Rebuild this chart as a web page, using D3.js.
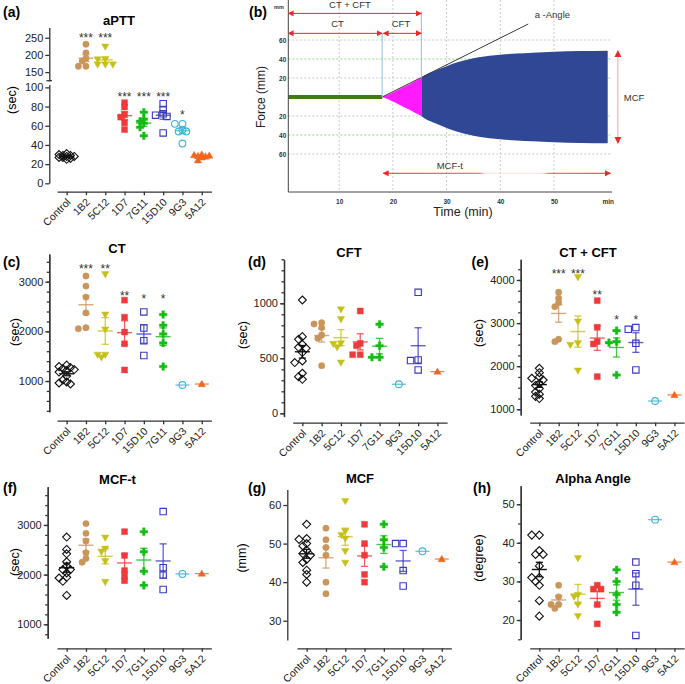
<!DOCTYPE html>
<html><head><meta charset="utf-8">
<script src="https://cdn.jsdelivr.net/npm/d3@7"></script>
<style>
body{margin:0;background:#fff}
svg{display:block}
text{font-family:"Liberation Sans",Arial,Helvetica,sans-serif}
</style>
</head><body>
<svg id="c" width="685" height="684"></svg>
<script>
// ---------------- DATA ----------------
const orderA = ["Control","1B2","5C12","1D7","7G11","15D10","9G3","5A12"];
const apttValues = [
  [31,30,29,29,28,28,27,27,26,25],
  [231,206,190,182,167,167],
  [224,187,187,172,172,172],
  [84,79.5,71.5,69,63,56],
  [74,67,64.7,62.6,58.4,49.6],
  [83,77,72.5,71,69.7,52.5],
  [62,62,56,54,54,41.5],
  [30,29.5,29,28.5,28,27,24]
];
const apttStars = ["","***","***","***","***","***","*",""];
const apttStarLevels = [0,258,258,93,93,93,74,0];
const apttTicksUpper = [150,200,250];
const apttTicksLower = [0,20,40,60,80,100];

const orderC = ["Control","1B2","5C12","1D7","15D10","7G11","9G3","5A12"];
const ctValues = [
  [1320,1290,1270,1250,1230,1210,1180,1100,1020,980,960,940],
  [3115,2912,2690,2372,2054,2074],
  [3149,2338,2034,1527,1473,1527],
  [2628,2284,1986,1750,1223],
  [2392,2068,1811,1514],
  [2338,2122,1946,1764,1291],
  [919],
  [939]
];
const ctStars = ["","***","**","**","*","*","",""];
const ctStarLevels = [0,3322,3322,2766,2718,2718,0,0];
const ctTicks = [1000,2000,3000];

const orderD = ["Control","1B2","5C12","1D7","7G11","9G3","15D10","5A12"];
const cftValues = [
  [1030,697,673,591,627,552,600,476,461,364,333,309],
  [824,812,779,712,682,433],
  [945,855,636,630,600,461],
  [930,636,615,533,533],
  [809,615,509,509],
  [264],
  [1100,485,479,394],
  [379]
];
const cftTicks = [0,500,1000];

const orderE = ["Control","1B2","5C12","1D7","7G11","15D10","9G3","5A12"];
const ctcftValues = [
  [1950,1850,1750,1720,1680,1600,1550,1480,1400,1350,1300,1250],
  [3715,3575,3475,3382,2624,2570],
  [4063,3034,2531,2493,1897],
  [3521,2903,2570,2516,1758],
  [2825,2570,2547,1797],
  [2895,2856,2531,1913],
  [1193],
  [1333]
];
const ctcftStars = ["","***","***","**","*","*","",""];
const ctcftStarLevels = [0,4216,4216,3715,3135,3135,0,0];
const ctcftTicks = [1000,2000,3000,4000];

const orderF = ["Control","1B2","5C12","1D7","7G11","15D10","9G3","5A12"];
const mcftValues = [
  [2757,2419,2507,2257,2169,2101,2101,2034,1932,1946,1865,1581],
  [3027,2831,2676,2439,2250,2324],
  [2743,2520,2459,2270,1851],
  [2865,2385,2081,1966,1878],
  [2865,2459,2068,1784],
  [3270,2140,1990,1700],
  [2014],
  [2020]
];
const mcftTicks = [1000,2000,3000];

const mcfValues = [
  [55,51.3,51.1,49.4,50,48.3,47.4,45.9,45.1,47,43.1,42,40],
  [54,51,49,47,40,37],
  [61,53.2,52.2,51.3,48,45],
  [55,50,47,42,40],
  [55,51,49,44],
  [50,50,43,39],
  [48],
  [46]
];
const mcfTicks = [30,40,50,60];

const alphaValues = [
  [42,42,38,37,37,34,31,31,30,29,25,21],
  [29,26,24,24,23],
  [36,26.5,26,24,21],
  [29,28,28,24,19],
  [33,30,26.6,24,22],
  [35,32,29,16],
  [46],
  [35]
];
const alphaTicks = [20,30,40,50];

// panel (b) ROTEM trace
const traceTime = [18,19,20,21,22,23,24,25.3,26,27,28,30,32,34,36,38,40,43,46,50,55,60];
const traceAmp  = [0,2.2,4.8,7.6,10.4,13.2,16.2,20,22.8,25.5,28,32.5,36.5,39.5,41.8,43.3,44.5,45.8,46.7,47.6,48.3,48.7];
const ctTime = 18, cftEndTime = 25.3;
const alphaLine = [[18,0],[45.2,76.8]];
const bTimeTicks = [10,20,30,40,50,60];
const bForceTicks = [60,40,20,-20,-40,-60];

// ---------------- STYLE ----------------
const catColor = {"Control":"#111111","1B2":"#c9955b","5C12":"#c6c11a","1D7":"#ee3a3a",
  "7G11":"#16bb16","15D10":"#3838c4","9G3":"#3fb4d2","5A12":"#f2661c"};
const openCat = {"Control":true,"15D10":true,"9G3":true};
function shapePath(name){
  switch(name){
    case "Control": return "M0,-4L4,0L0,4L-4,0Z";
    case "1B2": return d3.symbol(d3.symbolCircle,32)();
    case "5C12": return "M-3.7,-2.7L3.7,-2.7L0,3.7Z";
    case "1D7": return "M-3,-3H3V3H-3Z";
    case "7G11": return d3.symbol(d3.symbolCross,32)();
    case "15D10": return "M-3.2,-3.2H3.2V3.2H-3.2Z";
    case "9G3": return d3.symbol(d3.symbolCircle,36)();
    case "5A12": return "M-3.7,2.7L3.7,2.7L0,-3.7Z";
  }
}
const AX = "#333";
const svg = d3.select("#c");
const fmt = d3.format("d");

function swarm(ys){
  const idx = ys.map((d,i)=>i).sort((a,b)=>ys[a]-ys[b]);
  const placed=[], offs=new Array(ys.length).fill(0);
  const step=3.8, dist=4.2;
  idx.forEach(i=>{
    let best=0, bestD=-1;
    for(const k of [0,-1,1,-2,2]){
      const dx=k*step;
      const md = placed.length? d3.min(placed,p=>Math.hypot(p.dx-dx,p.y-ys[i])) : 99;
      if(md>=dist){best=dx;bestD=md;break;}
      if(md>bestD){bestD=md;best=dx;}
    }
    offs[i]=best; placed.push({dx:best,y:ys[i]});
  });
  return offs;
}

function styleAxis(sel){
  sel.selectAll("path,line").attr("stroke",AX).attr("stroke-width",1.3);
  sel.selectAll("text").attr("fill","#222").style("font-size","11px");
}

function panelText(p){
  svg.append("text").attr("x",p.labelX).attr("y",p.labelY).attr("dy","0.35em")
    .style("font-size","14px").style("font-weight","bold").text(p.label);
  svg.append("text").attr("x",p.titleX).attr("y",p.titleY).attr("dy","0.35em")
    .attr("text-anchor","middle").style("font-size","13px").style("font-weight","bold").text(p.title);
  svg.append("text").attr("transform",`translate(${p.ylabX},${p.ylabY}) rotate(-90)`)
    .attr("dy","0.35em").attr("text-anchor","middle").style("font-size","12.5px").text(p.ylab);
}

function scatterPanel(p){
  const g = svg.append("g");
  const x = d3.scalePoint().domain(p.order).range([p.xStart,p.xStart+154.4]).padding(0.5);
  const yv = p.yFn;
  const xa = g.append("g").attr("transform",`translate(0,${p.xAxisY})`)
    .call(d3.axisBottom(x).tickSize(3.5).tickSizeOuter(0));
  styleAxis(xa);
  xa.selectAll("text").attr("x",0).attr("y",0).attr("dy","0.35em").attr("text-anchor","end")
    .attr("transform","translate(1.5,8.5) rotate(-45)").style("font-size","10.5px");
  if(p.drawY) p.drawY(g);
  p.order.forEach((name,i)=>{
    const vals=p.values[i], col=catColor[name], cx=x(name);
    const ys=vals.map(yv);
    const offs=swarm(ys);
    vals.forEach((v,j)=>{
      const open=openCat[name];
      g.append("path").attr("d",shapePath(name))
        .attr("transform",`translate(${cx+offs[j]},${ys[j]})`)
        .attr("fill",open?"none":col)
        .attr("stroke",col).attr("stroke-width",open?1.1:0.4);
    });
    const m=d3.mean(vals);
    const lc = name==="Control"?"#111":col;
    const op = name==="Control"?1:0.8;
    if(vals.length>1){
      const s=d3.deviation(vals)/Math.sqrt(vals.length);
      const y1=yv(m+s), y0=yv(m-s);
      g.append("line").attr("x1",cx).attr("x2",cx).attr("y1",y1).attr("y2",y0).attr("stroke",lc).attr("stroke-opacity",op).attr("stroke-width",1.3);
      [y1,y0].forEach(yy=>g.append("line").attr("x1",cx-3.6).attr("x2",cx+3.6).attr("y1",yy).attr("y2",yy).attr("stroke",lc).attr("stroke-opacity",op).attr("stroke-width",1.3));
      g.append("line").attr("x1",cx-7.5).attr("x2",cx+7.5).attr("y1",yv(m)).attr("y2",yv(m)).attr("stroke",lc).attr("stroke-opacity",op).attr("stroke-width",1.4);
    } else {
      g.append("line").attr("x1",cx-7).attr("x2",cx+7).attr("y1",yv(m)).attr("y2",yv(m)).attr("stroke",lc).attr("stroke-opacity",op).attr("stroke-width",1.3);
    }
    if(p.stars && p.stars[i]){
      g.append("text").attr("x",cx).attr("y",yv(p.starLevels[i])+7).attr("text-anchor","middle")
        .attr("fill","#333").style("font-size","12px").text(p.stars[i]);
    }
  });
  panelText(p);
}

function simpleY(axisX, y, ticks, minor){
  return g=>{
    if(minor){
      const ma=g.append("g").attr("transform",`translate(${axisX},0)`)
        .call(d3.axisLeft(y).tickValues(minor).tickSize(2.5).tickSizeOuter(0).tickFormat(""));
      styleAxis(ma);
    }
    const a=g.append("g").attr("transform",`translate(${axisX},0)`)
      .call(d3.axisLeft(y).tickValues(ticks).tickSize(4).tickPadding(2).tickSizeOuter(0).tickFormat(fmt));
    styleAxis(a);
  };
}
function rangeStep(a,b,s){const r=[];for(let v=a;v<=b+1e-9;v+=s)r.push(v);return r;}

// ---------- Panel (a) ----------
const aUpper = d3.scaleLinear().domain([125,280]).range([80.7,27.4]);
const aLower = d3.scaleLinear().domain([0,103]).range([183.3,84.5]);
scatterPanel({
  order:orderA, values:apttValues, xStart:57, xAxisY:191.7,
  yFn:v=> v>110 ? aUpper(v) : aLower(v),
  drawY:g=>{
    const u=g.append("g").attr("transform","translate(49.3,0)")
      .call(d3.axisLeft(aUpper).tickValues(apttTicksUpper).tickSize(4).tickPadding(2).tickSizeOuter(0).tickFormat(fmt));
    styleAxis(u);
    g.append("line").attr("x1",46.5).attr("x2",52).attr("y1",aUpper(125)).attr("y2",aUpper(125)).attr("stroke",AX).attr("stroke-width",1.3);
    const l=g.append("g").attr("transform","translate(49.3,0)")
      .call(d3.axisLeft(aLower).tickValues(apttTicksLower).tickSize(4).tickPadding(2).tickSizeOuter(0).tickFormat(fmt));
    styleAxis(l);
  },
  stars:apttStars, starLevels:apttStarLevels,
  label:"(a)", labelX:3, labelY:12, title:"aPTT", titleX:119, titleY:20,
  ylab:"(sec)", ylabX:12, ylabY:100
});

// ---------- Panel (c) ----------
const cY = d3.scaleLinear().domain([380,3560]).range([411.8,253.9]);
scatterPanel({
  order:orderC, values:ctValues, xStart:57, xAxisY:420.7, yFn:cY,
  drawY:simpleY(49.3,cY,ctTicks,rangeStep(400,3400,200)),
  stars:ctStars, starLevels:ctStarLevels,
  label:"(c)", labelX:3, labelY:262, title:"CT", titleX:117, titleY:248.5,
  ylab:"(sec)", ylabX:15, ylabY:332
});

// ---------- Panel (d) ----------
const dY = d3.scaleLinear().domain([-30,1400]).range([416.6,259.3]);
scatterPanel({
  order:orderD, values:cftValues, xStart:292.7, xAxisY:422.7, yFn:dY,
  drawY:simpleY(284,dY,cftTicks,rangeStep(0,1400,100)),
  label:"(d)", labelX:248, labelY:262, title:"CFT", titleX:349, titleY:252,
  ylab:"(sec)", ylabX:243, ylabY:335
});

// ---------- Panel (e) ----------
const eY = d3.scaleLinear().domain([870,4480]).range([414.9,259.3]);
scatterPanel({
  order:orderE, values:ctcftValues, xStart:529.7, xAxisY:422.7, yFn:eY,
  drawY:simpleY(520.7,eY,ctcftTicks,rangeStep(1000,4250,250)),
  stars:ctcftStars, starLevels:ctcftStarLevels,
  label:"(e)", labelX:471.5, labelY:262, title:"CT + CFT", titleX:588, titleY:252,
  ylab:"(sec)", ylabX:479, ylabY:333
});

// ---------- Panel (f) ----------
const fY = d3.scaleLinear().domain([720,3770]).range([638.2,486.7]);
scatterPanel({
  order:orderF, values:mcftValues, xStart:57, xAxisY:648.3, yFn:fY,
  drawY:simpleY(47.7,fY,mcftTicks,rangeStep(800,3600,200)),
  label:"(f)", labelX:3, labelY:488.5, title:"MCF-t", titleX:117.5, titleY:479,
  ylab:"(sec)", ylabX:15, ylabY:562
});

// ---------- Panel (g) ----------
const gY = d3.scaleLinear().domain([25,64]).range([640,489.6]);
scatterPanel({
  order:orderF, values:mcfValues, xStart:297, xAxisY:648.3, yFn:gY,
  drawY:simpleY(287.3,gY,mcfTicks,null),
  label:"(g)", labelX:248, labelY:488.5, title:"MCF", titleX:360, titleY:478.5,
  ylab:"(mm)", ylabX:242, ylabY:558
});

// ---------- Panel (h) ----------
const hY = d3.scaleLinear().domain([15,54.8]).range([639.3,485.7]);
scatterPanel({
  order:orderF, values:alphaValues, xStart:529.7, xAxisY:648.3, yFn:hY,
  drawY:simpleY(520.7,hY,alphaTicks,rangeStep(15,50,5)),
  label:"(h)", labelX:473, labelY:488.5, title:"Alpha Angle", titleX:593, titleY:478.5,
  ylab:"(degree)", ylabX:479, ylabY:558
});

// ---------- Panel (b) ----------
(function(){
  const g = svg.append("g");
  const tx = d3.scaleLinear().domain([0,60]).range([285.5,607.7]);
  const fy = d3.scaleLinear().domain([-60,60]).range([154,40]);
  const defs = svg.append("defs");
  defs.append("marker").attr("id","arr").attr("viewBox","0 0 10 10").attr("refX",9).attr("refY",5)
    .attr("markerWidth",6).attr("markerHeight",6).attr("orient","auto-start-reverse").attr("markerUnits","userSpaceOnUse")
    .append("path").attr("d","M0,0L10,5L0,10Z").attr("fill","#e82a2a");
  defs.append("marker").attr("id","arr2").attr("viewBox","0 0 10 10").attr("refX",9).attr("refY",5)
    .attr("markerWidth",7).attr("markerHeight",7).attr("orient","auto-start-reverse").attr("markerUnits","userSpaceOnUse")
    .append("path").attr("d","M0,0L10,5L0,10Z").attr("fill","#e82a2a");
  const grad = defs.append("linearGradient").attr("id","mcftg").attr("gradientUnits","userSpaceOnUse")
    .attr("x1",tx(18.2)).attr("x2",tx(60.5)).attr("y1",0).attr("y2",0);
  grad.append("stop").attr("offset","0").attr("stop-color","#e82a2a");
  grad.append("stop").attr("offset","0.42").attr("stop-color","#ec5050");
  grad.append("stop").attr("offset","0.45").attr("stop-color","#fbdede");
  grad.append("stop").attr("offset","0.70").attr("stop-color","#fbdede");
  grad.append("stop").attr("offset","0.73").attr("stop-color","#ec5050");
  grad.append("stop").attr("offset","1").attr("stop-color","#e82a2a");

  const x0=288.3, xEnd=612, yTop=0, yBot=192;
  bTimeTicks.filter(t=>t<60).forEach(t=>g.append("line").attr("x1",tx(t)).attr("x2",tx(t)).attr("y1",yTop).attr("y2",yBot)
    .attr("stroke","#bdbdbd").attr("stroke-width",0.8).attr("stroke-dasharray","2,2"));
  bForceTicks.forEach(f=>{
    const green = Math.abs(f)===40;
    g.append("line").attr("x1",x0).attr("x2",xEnd).attr("y1",fy(f)).attr("y2",fy(f))
      .attr("stroke",green?"#6fd46f":"#bdbdbd").attr("stroke-width",0.8).attr("stroke-dasharray","2,2");
  });
  const trace = traceTime.map((t,i)=>({t,a:traceAmp[i]}));
  const area = d3.area().x(d=>tx(d.t)).y0(d=>fy(-d.a)).y1(d=>fy(d.a)).curve(d3.curveMonotoneX);
  g.append("path").datum(trace.filter(d=>d.t<=cftEndTime)).attr("d",area).attr("fill","#ff1aff");
  g.append("path").datum(trace.filter(d=>d.t>=cftEndTime)).attr("d",area).attr("fill","#304795");
  g.append("line").attr("x1",x0).attr("x2",tx(ctTime)).attr("y1",fy(0)).attr("y2",fy(0))
    .attr("stroke","#3f7d14").attr("stroke-width",4);
  g.append("line").attr("x1",tx(alphaLine[0][0])).attr("y1",fy(alphaLine[0][1]))
    .attr("x2",tx(alphaLine[1][0])).attr("y2",fy(alphaLine[1][1])).attr("stroke","#222").attr("stroke-width",0.9);
  g.append("line").attr("x1",tx(ctTime)).attr("x2",tx(ctTime)).attr("y1",fy(67)).attr("y2",fy(0)).attr("stroke","#8cc0ea").attr("stroke-width",1);
  g.append("line").attr("x1",tx(cftEndTime)).attr("x2",tx(cftEndTime)).attr("y1",fy(89.8)).attr("y2",fy(20)).attr("stroke","#8cc0ea").attr("stroke-width",1);
  g.append("line").attr("x1",x0).attr("x2",x0).attr("y1",yTop).attr("y2",yBot).attr("stroke","#444").attr("stroke-width",1);
  g.append("line").attr("x1",x0).attr("x2",xEnd).attr("y1",yBot).attr("y2",yBot).attr("stroke","#444").attr("stroke-width",1);
  const xa = g.append("g").attr("transform",`translate(0,${yBot})`)
    .call(d3.axisBottom(tx).tickValues(bTimeTicks).tickSize(0).tickPadding(7).tickFormat(d=>d===60?"min":d));
  xa.select(".domain").remove();
  xa.selectAll("text").style("font-size","6.5px").style("font-weight","bold").attr("fill","#333");
  const ya = g.append("g").attr("transform",`translate(${x0},0)`)
    .call(d3.axisLeft(fy).tickValues(bForceTicks).tickSize(0).tickPadding(2).tickFormat(d=>Math.abs(d)));
  ya.select(".domain").remove();
  ya.selectAll("text").style("font-size","6.5px").style("font-weight","bold").attr("fill","#333");
  g.append("text").attr("x",279).attr("y",9).attr("text-anchor","middle").style("font-size","5.5px").style("font-weight","bold").attr("fill","#333").text("mm");
  const arrow=(t1,f1,t2,f2,stroke,mk)=>g.append("line").attr("x1",tx(t1)).attr("y1",fy(f1)).attr("x2",tx(t2)).attr("y2",fy(f2))
    .attr("stroke",stroke).attr("stroke-width",1).attr("marker-start",`url(#${mk})`).attr("marker-end",`url(#${mk})`);
  arrow(0.5,88,cftEndTime,88,"#e82a2a","arr");
  arrow(0.5,67,ctTime,67,"#e82a2a","arr");
  arrow(ctTime+0.2,67,cftEndTime,67,"#e82a2a","arr");
  arrow(61.9,48.7,61.9,-48.7,"#f4a3a3","arr2");
  g.append("line").attr("x1",tx(18.2)).attr("y1",fy(-80.3)).attr("x2",tx(60.5)).attr("y2",fy(-80.3)).attr("stroke","url(#mcftg)").attr("stroke-width",1)
    .attr("marker-start","url(#arr)").attr("marker-end","url(#arr)");
  const lab=(t,f,s,anchor)=>g.append("text").attr("x",tx(t)).attr("y",fy(f)).attr("dy","0.35em").attr("text-anchor",anchor||"middle")
    .style("font-size","9.5px").attr("fill","#333").text(s);
  lab(12,96.8,"CT + CFT");
  lab(9.7,76.8,"CT");
  lab(21.5,76.8,"CFT");
  lab(46.4,86.3,"a -Angle","start");
  lab(64.9,-0.7,"MCF");
  lab(30.6,-72.3,"MCF-t");
  g.append("text").attr("transform",`translate(261,97) rotate(-90)`).attr("dy","0.35em").attr("text-anchor","middle")
    .style("font-size","12px").attr("fill","#222").text("Force (mm)");
  g.append("text").attr("x",463).attr("y",212).attr("dy","0.35em").attr("text-anchor","middle")
    .style("font-size","12.5px").attr("fill","#222").text("Time (min)");
  g.append("text").attr("x",249).attr("y",12).attr("dy","0.35em").style("font-size","14px").style("font-weight","bold").text("(b)");
})();
</script>
</body></html>
